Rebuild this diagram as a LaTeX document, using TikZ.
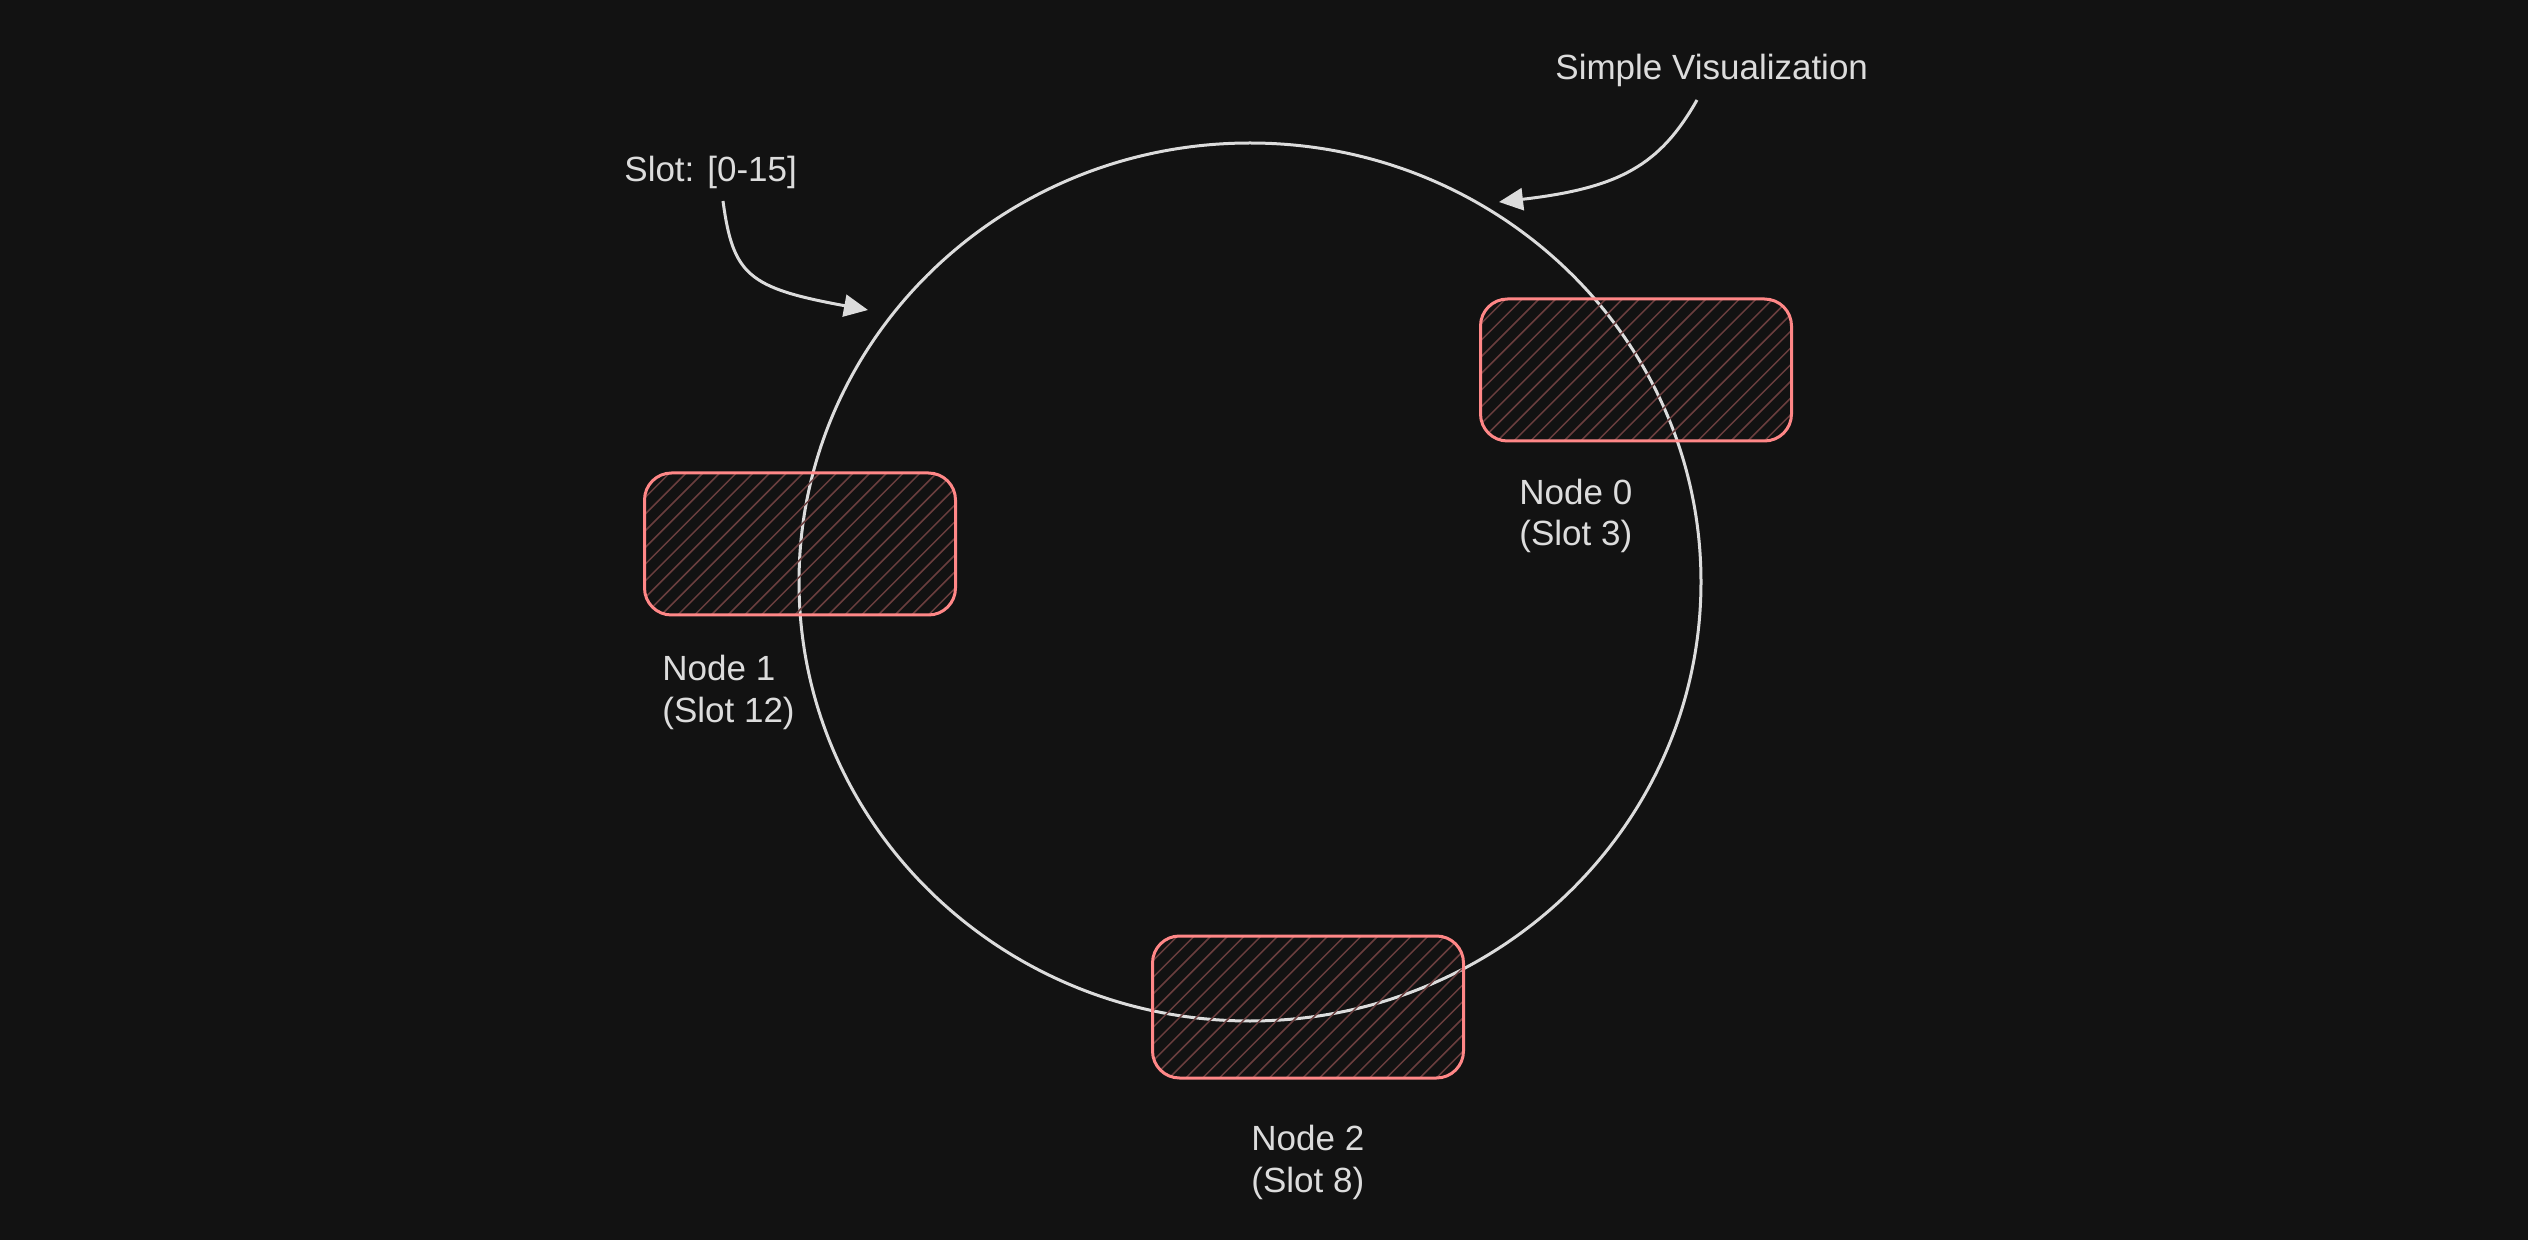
\documentclass[tikz,border=0pt]{standalone}
\usepackage{fontspec}
\setmainfont{Liberation Sans}
\usetikzlibrary{arrows.meta,shapes.geometric}
\definecolor{bgdark}{HTML}{121212}
\definecolor{inkgrey}{HTML}{DCDCDC}
\definecolor{salmon}{HTML}{FF8787}
\definecolor{hatchred}{HTML}{6A3E3E}

\begin{document}
\begin{tikzpicture}[x=0.5pt,y=-0.5pt,
    slotbox/.style={draw=salmon, line width=1.5pt, rounded corners=13.5pt,
        minimum width=155.5pt, minimum height=71pt, inner sep=0pt,
        path picture={\foreach \k in {-10,...,20}
            {\draw[hatchred, line width=0.75pt] ([xshift=\k*8.35pt]path picture bounding box.south west) -- ++(170,-170);}}},
    lbl/.style={text=inkgrey, font=\fontsize{17.5}{20.75}\selectfont, inner sep=0pt, anchor=base west, align=left},
    pointer/.style={inkgrey, line width=1.5pt, -{Triangle[length=12pt,width=11pt]}}]
    \fill[bgdark] (0,0) rectangle (2528,1240);
    \useasboundingbox (0,0) rectangle (2528,1240);

    \node[draw=inkgrey, line width=1.5pt, ellipse, inner sep=0pt, minimum width=451pt, minimum height=439pt] (ring) at (1250,582) {};

    \def\boxes{(1636,370),(800,544),(1308,1007)}
    %            node 0      node 1      node 2
    \foreach \b [count=\i from 0] in \boxes {\node[slotbox] (box\i) at \b {};}
    \foreach \x/\y/\s [count=\i from 0] in {1519/546/3, 662/722/12, 1251/1192/8}
        {\node[lbl] (name\i) at (\x,\y) {Node \i\\(Slot \s)};}

    \node[lbl] (range) at (624,182) {Slot: [0-15]};
    \node[lbl] (title) at (1555,80) {Simple Visualization};
    \coordinate (rangefrom) at (723,201);
    \coordinate (rangeto) at (868,310);
    \coordinate (titlefrom) at (1697,100);
    \coordinate (titleto) at (1499,202);
    \draw[pointer] (rangefrom) .. controls (733,275) and (748,288) .. (rangeto);
    \draw[pointer] (titlefrom) .. controls (1660,165) and (1620,188) .. (titleto);
\end{tikzpicture}
\end{document}
